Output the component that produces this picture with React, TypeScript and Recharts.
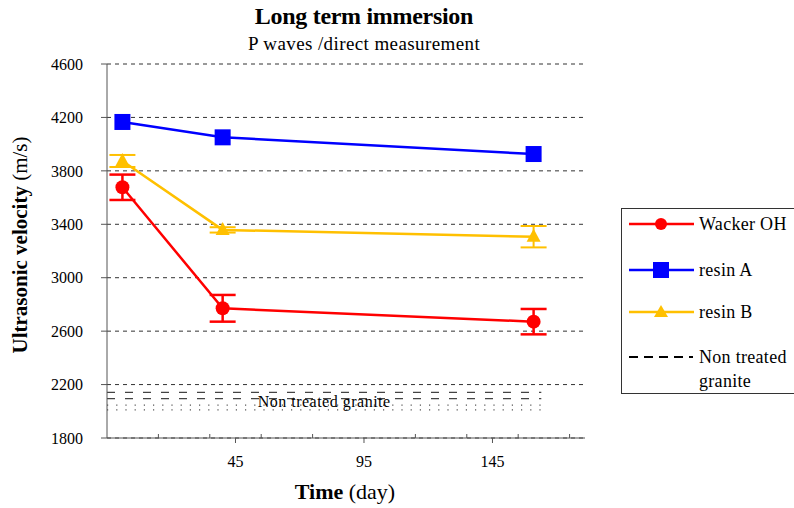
import React from 'react';
import {
  LineChart,
  Line,
  XAxis,
  YAxis,
  CartesianGrid,
  ErrorBar,
  ReferenceLine,
  ReferenceArea,
  Legend
} from 'recharts';

document.body.style.margin = '0';

const SERIF = 'Liberation Serif, Times New Roman, serif';

// time (day) of each measurement
const days = [1, 40, 161];
const wackerOH = [3677, 2771, 2671];
const wackerOHErr = [95, 100, 95];
const resinA = [4166, 4051, 3926];
const resinB = [3874, 3358, 3307];
const resinBErr = [45, 20, 80];

const yTicks = [1800, 2200, 2600, 3000, 3400, 3800, 4200, 4600];
const xMajorTicks = [45, 95, 145];
const xMinorTicks = [15, 35, 55, 75, 115, 135, 155, 175];

// non treated granite band
const graniteDays = [-5, 164];
const graniteDashed = [2141, 2095];
const graniteDotted = [2046, 2010];

const COLORS = {
  red: '#ff0000',
  blue: '#0000ff',
  yellow: '#ffc000'
};

const data = days.map((day, i) => ({
  day,
  wackerOH: wackerOH[i],
  wackerOHErr: wackerOHErr[i],
  resinA: resinA[i],
  resinB: resinB[i],
  resinBErr: resinBErr[i]
}));

const CircleDot = (props: any) => {
  const { cx, cy } = props;
  if (cx == null || cy == null) return null;
  return <circle cx={cx} cy={cy} r={7} fill={COLORS.red} />;
};

const SquareDot = (props: any) => {
  const { cx, cy } = props;
  if (cx == null || cy == null) return null;
  return <rect x={cx - 8} y={cy - 8} width={16} height={16} fill={COLORS.blue} />;
};

const TriangleDot = (props: any) => {
  const { cx, cy } = props;
  if (cx == null || cy == null) return null;
  return (
    <polygon
      points={`${cx},${cy - 8} ${cx + 7},${cy + 5} ${cx - 7},${cy + 5}`}
      fill={COLORS.yellow}
    />
  );
};

const XTick = (props: any) => {
  const { x, y, payload } = props;
  const major = xMajorTicks.includes(payload.value);
  return (
    <g>
      <line x1={x} x2={x} y1={y} y2={major ? y + 5 : y - 4} stroke="#555" />
      {major && (
        <text x={x} y={y + 29} textAnchor="middle" fontSize={16} fontFamily={SERIF} fill="#000">
          {payload.value}
        </text>
      )}
    </g>
  );
};

const legendItems = [
  { name: 'Wacker OH', color: COLORS.red, marker: 'circle' },
  { name: 'resin A', color: COLORS.blue, marker: 'square' },
  { name: 'resin B', color: COLORS.yellow, marker: 'triangle' },
  { name: 'Non treated', name2: 'granite', color: '#000', marker: 'dash' }
];
const legendRowY = [15, 61, 103, 148];

const LegendBox = () => (
  <div
    style={{
      position: 'relative',
      width: 190,
      height: 184,
      border: '1px solid #333',
      background: '#fff',
      fontFamily: SERIF,
      fontSize: 18,
      letterSpacing: 0.3,
      color: '#000'
    }}
  >
    {legendItems.map((item, i) => (
      <div key={item.name} style={{ position: 'absolute', left: 0, top: legendRowY[i] - 12 }}>
        <svg width={76} height={24} style={{ position: 'absolute', left: 7, top: 0 }}>
          {item.marker === 'dash' ? (
            <line x1={0} x2={64} y1={12} y2={12} stroke="#000" strokeWidth={2} strokeDasharray="9 6" />
          ) : (
            <line x1={0} x2={65} y1={12} y2={12} stroke={item.color} strokeWidth={2.5} />
          )}
          {item.marker === 'circle' && <circle cx={32} cy={12} r={6} fill={item.color} />}
          {item.marker === 'square' && <rect x={24} y={4} width={16} height={16} fill={item.color} />}
          {item.marker === 'triangle' && (
            <polygon points="32,5 39,17 25,17" fill={item.color} />
          )}
        </svg>
        <div style={{ position: 'absolute', left: 77, top: 0, whiteSpace: 'nowrap', lineHeight: '24px' }}>
          {item.name}
          {item.name2 && <div>{item.name2}</div>}
        </div>
      </div>
    ))}
  </div>
);

const YLabel = () => (
  <text
    x={22}
    y={245}
    transform="rotate(-90, 22, 245)"
    textAnchor="middle"
    dominantBaseline="middle"
    fontFamily={SERIF}
    fontSize={21}
    fill="#000"
  >
    <tspan fontWeight="bold">Ultrasonic velocity</tspan>
    <tspan> (m/s)</tspan>
  </text>
);

const XLabel = () => (
  <text x={345} y={499} textAnchor="middle" fontFamily={SERIF} fontSize={22} fill="#000">
    <tspan fontWeight="bold">Time</tspan>
    <tspan> (day)</tspan>
  </text>
);

export default function App() {
  return (
    <div style={{ position: 'relative', width: 794, height: 508, background: '#fff' }}>
      <div
        style={{
          position: 'absolute',
          left: 0,
          width: 728,
          top: 3,
          textAlign: 'center',
          fontFamily: SERIF,
          fontWeight: 'bold',
          fontSize: 24,
          letterSpacing: -0.3
        }}
      >
        Long term immersion
      </div>
      <div
        style={{
          position: 'absolute',
          left: 0,
          width: 728,
          top: 33,
          textAlign: 'center',
          fontFamily: SERIF,
          fontSize: 19,
          letterSpacing: 0.4
        }}
      >
        P waves /direct measurement
      </div>
      <LineChart
        width={794}
        height={508}
        data={data}
        margin={{ top: 64, right: 209, bottom: 30, left: 0 }}
      >
        <CartesianGrid vertical={false} stroke="#333" strokeDasharray="4 4" />
        <XAxis
          dataKey="day"
          type="number"
          domain={[-5, 181]}
          ticks={[...xMinorTicks, ...xMajorTicks].sort((a, b) => a - b)}
          interval={0}
          height={40}
          tickSize={0}
          tickMargin={0}
          tickLine={false}
          tick={<XTick />}
          axisLine={{ stroke: '#555' }}
          allowDataOverflow
          label={{ content: () => <XLabel /> }}
        />
        <YAxis
          type="number"
          domain={[1800, 4600]}
          ticks={yTicks}
          interval={0}
          width={107}
          tickSize={6}
          tickMargin={18}
          tick={{ fontSize: 16, fontFamily: SERIF, fill: '#000' }}
          tickLine={{ stroke: '#555' }}
          axisLine={{ stroke: '#555' }}
          label={{ content: () => <YLabel /> }}
        />
        <ReferenceArea
          x1={graniteDays[0]}
          x2={graniteDays[1]}
          y1={graniteDotted[1]}
          y2={graniteDashed[0]}
          fill="none"
          stroke="none"
          label={{
            value: 'Non treated granite',
            position: 'center',
            fontFamily: SERIF,
            fontSize: 16,
            letterSpacing: 0.5,
            fill: '#000'
          }}
        />
        {graniteDashed.map((v) => (
          <ReferenceLine
            key={`dash-${v}`}
            segment={[
              { x: graniteDays[0], y: v },
              { x: graniteDays[1], y: v }
            ]}
            stroke="#444"
            strokeWidth={1.2}
            strokeDasharray="8 10"
          />
        ))}
        {graniteDotted.map((v) => (
          <ReferenceLine
            key={`dot-${v}`}
            segment={[
              { x: graniteDays[0], y: v },
              { x: graniteDays[1], y: v }
            ]}
            stroke="#555"
            strokeWidth={1.2}
            strokeDasharray="1.2 8"
          />
        ))}
        <Line
          dataKey="wackerOH"
          name="Wacker OH"
          stroke={COLORS.red}
          strokeWidth={2.5}
          dot={<CircleDot />}
          isAnimationActive={false}
        >
          <ErrorBar dataKey="wackerOHErr" width={13} stroke={COLORS.red} strokeWidth={2.5} direction="y" />
        </Line>
        <Line
          dataKey="resinA"
          name="resin A"
          stroke={COLORS.blue}
          strokeWidth={2.5}
          dot={<SquareDot />}
          isAnimationActive={false}
        />
        <Line
          dataKey="resinB"
          name="resin B"
          stroke={COLORS.yellow}
          strokeWidth={2.5}
          dot={<TriangleDot />}
          isAnimationActive={false}
        >
          <ErrorBar dataKey="resinBErr" width={13} stroke={COLORS.yellow} strokeWidth={2} direction="y" />
        </Line>
        <Legend
          layout="horizontal"
          align="center"
          verticalAlign="middle"
          content={() => <LegendBox />}
          wrapperStyle={{ position: 'absolute', left: 621, top: 208, width: 190, height: 184 }}
        />
      </LineChart>
    </div>
  );
}
